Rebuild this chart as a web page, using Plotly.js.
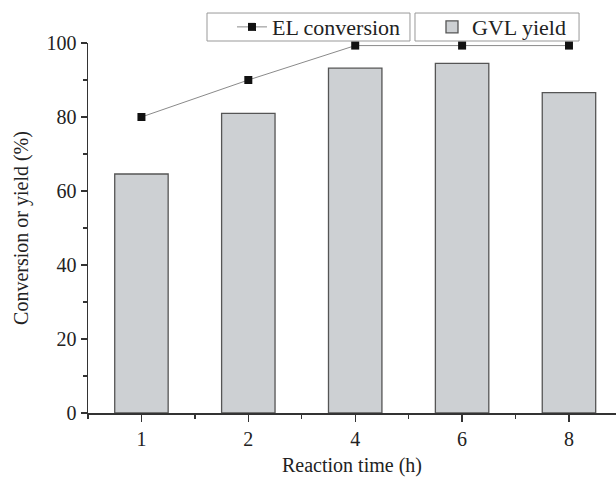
<!DOCTYPE html>
<html><head><meta charset="utf-8">
<script src="https://cdn.plot.ly/plotly-3.0.1.min.js"></script>
<style>html,body{margin:0;padding:0;background:#fff}</style>
</head><body>
<div id="chart" style="width:616px;height:477px"></div>
<script>
const categories = ['1', '2', '4', '6', '8'];
const elConversion = [80, 90, 99.3, 99.3, 99.3];
const gvlYield = [64.6, 81, 93.2, 94.5, 86.6];
const positions = categories.map((c, i) => i);

const serif = '"Liberation Serif", "Times New Roman", serif';

const traces = [
  {
    type: 'scatter', mode: 'lines+markers', name: 'EL conversion',
    x: positions, y: elConversion,
    line: {color: '#8a8a8a', width: 1},
    marker: {symbol: 'square', size: 8, color: '#111'},
    cliponaxis: false, legend: 'legend'
  },
  {
    type: 'bar', name: 'GVL yield',
    x: positions, y: gvlYield, width: 0.5,
    marker: {color: '#cdd0d3', line: {color: '#555', width: 1.3}},
    legend: 'legend2'
  }
];

const boxStyle = {type: 'rect', xref: 'paper', yref: 'paper', layer: 'below',
  line: {color: '#999', width: 1}, fillcolor: '#fff'};

const layout = {
  width: 616, height: 477,
  margin: {l: 88, r: 0, t: 43, b: 64},
  paper_bgcolor: '#fff', plot_bgcolor: 'rgba(0,0,0,0)',
  font: {family: serif, color: '#222', size: 20},
  showlegend: true,
  xaxis: {
    range: [-0.5, 4.44],
    tickmode: 'array', tickvals: positions, ticktext: categories,
    ticks: 'outside', ticklen: 7, tickwidth: 1.3, tickcolor: '#333',
    minor: {tickmode: 'linear', tick0: 0.5, dtick: 1, ticks: 'outside', ticklen: 4, tickcolor: '#333', tickwidth: 1.3},
    showline: true, linecolor: '#333', linewidth: 1.5,
    showgrid: false, zeroline: false,
    tickfont: {family: serif, size: 20, color: '#222'},
    title: {text: 'Reaction time (h)', font: {family: serif, size: 20, color: '#222'}, standoff: 10}
  },
  yaxis: {
    range: [0, 100],
    tickmode: 'linear', tick0: 0, dtick: 20,
    ticks: 'outside', ticklen: 6, tickwidth: 1.3, tickcolor: '#333',
    minor: {tickmode: 'linear', tick0: 10, dtick: 20, ticks: 'outside', ticklen: 4, tickcolor: '#333', tickwidth: 1.3},
    showline: true, linecolor: '#333', linewidth: 1.5,
    showgrid: false, zeroline: false,
    tickfont: {family: serif, size: 20, color: '#222'},
    title: {text: 'Conversion or yield (%)', font: {family: serif, size: 20, color: '#222'}, standoff: 12}
  },
  shapes: [
    Object.assign({x0: 0.2254, x1: 0.6098, y0: 1.0054, y1: 1.081}, boxStyle),
    Object.assign({x0: 0.6193, x1: 0.930, y0: 1.0054, y1: 1.081}, boxStyle)
  ],
  legend: {
    x: 0.2727, y: 1.043, xanchor: 'left', yanchor: 'middle',
    orientation: 'h', bgcolor: 'rgba(0,0,0,0)', borderwidth: 0,
    font: {family: serif, size: 22, color: '#222'},
    itemwidth: 30
  },
  legend2: {
    x: 0.6515, y: 1.043, xanchor: 'left', yanchor: 'middle',
    orientation: 'h', bgcolor: 'rgba(0,0,0,0)', borderwidth: 0,
    font: {family: serif, size: 22, color: '#222'},
    itemwidth: 30
  }
};

Plotly.newPlot('chart', traces, layout, {displayModeBar: false, staticPlot: true});
</script>
</body></html>
